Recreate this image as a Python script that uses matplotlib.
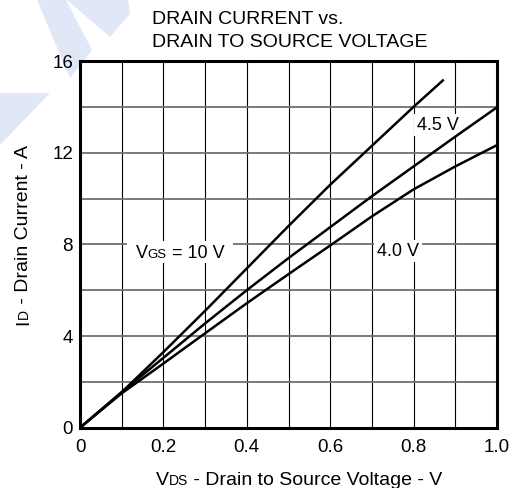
import numpy as np
import matplotlib
matplotlib.use("Agg")
import matplotlib.pyplot as plt
from matplotlib.patches import Polygon, Rectangle

plt.rcParams['font.family'] = ['Liberation Sans', 'DejaVu Sans']

# 곡선 데이터
vds = [0, 0.1, 0.2, 0.3, 0.4, 0.5, 0.6, 0.7, 0.8, 0.9, 1.0]
vds_10v = [0, 0.1, 0.2, 0.3, 0.4, 0.5, 0.6, 0.7, 0.8, 0.87]
id_10v = [0, 1.55, 3.3, 5.1, 6.95, 8.8, 10.6, 12.3, 14.0, 15.15]
id_45v = [0, 1.55, 3.05, 4.55, 6.0, 7.4, 8.75, 10.1, 11.4, 12.7, 13.98]
id_40v = [0, 1.5, 2.8, 4.12, 5.43, 6.7, 7.95, 9.22, 10.4, 11.4, 12.33]

x_ticks = [0, 0.2, 0.4, 0.6, 0.8, 1.0]
x_labels = ['0', '0.2', '0.4', '0.6', '0.8', '1.0']
y_ticks = [0, 4, 8, 12, 16]

W, H = 519, 488
fig = plt.figure(figsize=(W / 100, H / 100), dpi=100)
ax = fig.add_axes([80 / W, 1 - 427.7 / H, 417 / W, 366.7 / H])


def px(x, y):
    # 픽셀 좌표 (왼쪽 위 기준) -> figure 좌표
    return x / W, 1 - y / H


# 배경 워터마크
wm = '#e0e7f6'
for pts in [[(37, 0), (66, 0), (92, 50), (70, 78)],
            [(67, 0), (128, 0), (130, 14), (110, 37)],
            [(0, 93), (50, 93), (0, 145)]]:
    fig.patches.append(Polygon([px(*p) for p in pts], closed=True,
                               transform=fig.transFigure, facecolor=wm,
                               edgecolor='none', zorder=-5))

# 곡선
ax.plot(vds_10v, id_10v, color='black', lw=1.8, zorder=4)
ax.plot(vds, id_45v, color='black', lw=1.8, zorder=4)
ax.plot(vds, id_40v, color='black', lw=1.8, zorder=4)

ax.set_xlim(0, 1.0)
ax.set_ylim(0, 16)
ax.set_xticks(x_ticks)
ax.set_xticklabels(x_labels)
ax.set_xticks(np.arange(0.1, 1.0, 0.1), minor=True)
ax.set_yticks(y_ticks)
ax.set_yticks(np.arange(2, 16, 4), minor=True)
ax.tick_params(which='both', length=0, labelsize=13.5, colors='black')
ax.tick_params(axis='x', pad=8)
ax.tick_params(axis='y', pad=5)

# 격자
ax.grid(True, axis='x', which='both', color='black', lw=0.8, zorder=1)
ax.grid(True, axis='y', which='both', color='#707070', lw=1.3, zorder=1)
ax.set_axisbelow(True)
for s in ax.spines.values():
    s.set_linewidth(2.2)
    s.set_zorder(6)

# 곡선 라벨
ax.add_patch(Rectangle((0.113, 7.2), 0.254, 0.95, facecolor='white',
                       edgecolor='none', zorder=2))
ax.text(0.858, 13.2, '4.5 V', fontsize=13, ha='center', va='center', zorder=3,
        bbox=dict(facecolor='white', edgecolor='none', pad=2))
ax.text(0.763, 7.7, '4.0 V', fontsize=13, ha='center', va='center', zorder=3,
        bbox=dict(facecolor='white', edgecolor='none', pad=2))


def rich_text(x, y, parts, rotation=0):
    # 크기가 다른 글자 조각을 기준선에 맞춰 이어 쓰기 (x, y: 가운데, 픽셀)
    texts = [fig.text(0, 0, s, fontsize=fs, rotation=rotation,
                      rotation_mode='anchor', ha='left', va='baseline')
             for s, fs in parts]
    fig.canvas.draw()
    r = fig.canvas.get_renderer()
    lens = []
    for t in texts:
        bb = t.get_window_extent(r)
        lens.append(bb.width if rotation == 0 else bb.height)
    total = sum(lens)
    d = 0
    for t, L in zip(texts, lens):
        if rotation == 0:
            t.set_position(px(x - total / 2 + d, y))
        else:
            t.set_position(px(x, y + total / 2 - d))
        d += L


rich_text(180, 258.5, [('V', 13), ('GS', 9.5), (' = 10 V', 13)])
rich_text(299, 485, [('V', 14), ('DS', 10), (' - Drain to Source Voltage - V', 14)])
rich_text(28, 235, [('I', 14), ('D', 10), (' - Drain Current - A', 14)], rotation=90)

# 제목
fig.text(*px(152, 24), 'DRAIN CURRENT vs.', fontsize=14, va='baseline')
fig.text(*px(152, 47), 'DRAIN TO SOURCE VOLTAGE', fontsize=14, va='baseline')

fig.savefig('out.png', dpi=100)
